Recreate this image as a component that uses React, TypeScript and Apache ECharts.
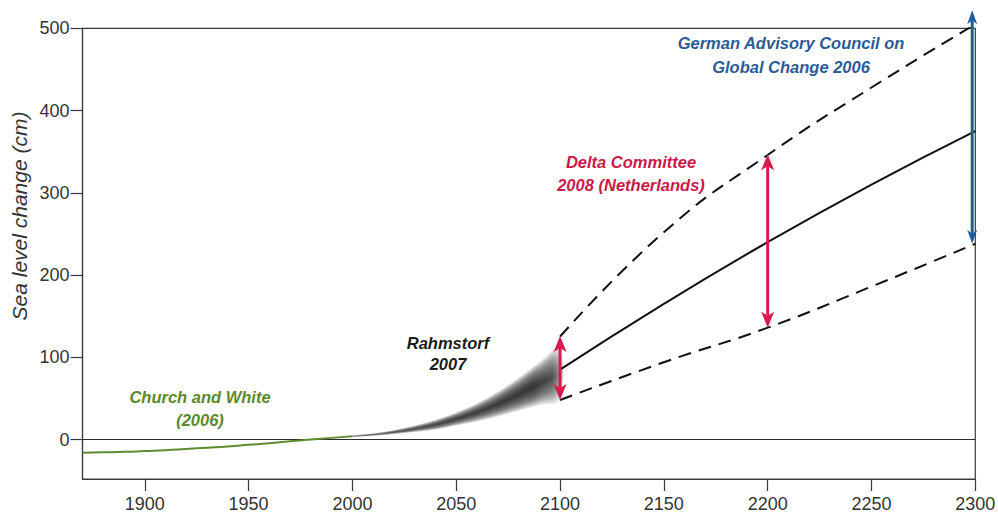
import React, { useEffect, useRef } from "react";
import * as echarts from "echarts";

// Church and White (2006) reconstruction, cm
const churchYears = [1870, 1880, 1890, 1900, 1910, 1920, 1930, 1940, 1950, 1960, 1970, 1980, 1990, 2000];
const churchLevel = [-16, -15.5, -15, -14, -13, -11.5, -10, -8.5, -6.5, -4.5, -2, 0, 2, 4];

// Rahmstorf (2007) projection: central path and half-width of the fuzzy band, cm
const rahmYears = [2000, 2010, 2020, 2030, 2040, 2050, 2060, 2070, 2080, 2090, 2100];
const rahmMid = [4, 6, 9, 13, 18, 25, 33, 43, 55, 68, 80];
const rahmHalf = [0.8, 1.5, 2.5, 4, 6, 8, 11, 15, 20, 26, 32];
// nested bands used to build the soft fan
const fanFractions = [1.0, 0.92, 0.84, 0.76, 0.68, 0.6, 0.52, 0.44, 0.36, 0.28, 0.2, 0.12, 0.05];

// Long-range projections 2100-2300, cm
const projYears = [2100, 2150, 2200, 2250, 2300];
const projCentral = [85, 165, 240, 310, 375];
const projUpper = [125, 252, 346, 428, 505];
const projLower = [48, 94, 136, 186, 238];

// Range arrows: year, low end, high end, colour
const arrowYears = [2100, 2200, 2298.5];
const arrowLow = [48, 136, 238];
const arrowHigh = [126, 347, 522];
const arrowColours = ["#d61c4e", "#d61c4e", "#1f5c9e"];

// Axis ticks
const xTicks = [1900, 1950, 2000, 2050, 2100, 2150, 2200, 2250, 2300];
const yTicks = [0, 100, 200, 300, 400, 500];

const FONT = "'Liberation Sans', Arial, sans-serif";
const AXIS = "#3a3a3a";

export default function App() {
  const ref = useRef<HTMLDivElement>(null);

  useEffect(() => {
    if (!ref.current) return;
    const chart = echarts.init(ref.current, null, { renderer: "svg" });

    const annotation = (text: string, x: number, y: number, fill: string) => ({
      type: "text",
      x,
      y,
      silent: true,
      z: 20,
      style: {
        text,
        fill,
        fontFamily: FONT,
        fontSize: 16.5,
        fontStyle: "italic",
        fontWeight: "bold",
        textAlign: "center",
        textVerticalAlign: "middle",
      },
    });

    chart.setOption({
      animation: false,
      backgroundColor: "#ffffff",
      grid: {
        left: 82.5,
        right: 22.7,
        top: 28.3,
        bottom: 36,
        show: true,
        borderColor: AXIS,
        borderWidth: 1.2,
        backgroundColor: "transparent",
        outerBoundsMode: "none",
      },
      xAxis: {
        type: "value",
        min: 1870,
        max: 2300,
        axisLine: { show: true, onZero: false, lineStyle: { color: AXIS, width: 1.2 } },
        axisTick: { show: true, customValues: xTicks, length: 12, lineStyle: { color: AXIS, width: 1.2 } },
        axisLabel: {
          customValues: xTicks,
          formatter: (v: number) => String(v),
          margin: 16,
          color: "#333",
          fontSize: 18,
          fontFamily: FONT,
        },
        splitLine: { show: false },
      },
      yAxis: {
        type: "value",
        min: -48,
        max: 500,
        axisLine: { show: true, onZero: false, lineStyle: { color: AXIS, width: 1.2 } },
        axisTick: { show: true, customValues: yTicks, length: 12, lineStyle: { color: AXIS, width: 1.2 } },
        axisLabel: {
          customValues: yTicks,
          formatter: (v: number) => String(v),
          margin: 13,
          color: "#333",
          fontSize: 18,
          fontFamily: FONT,
        },
        splitLine: { show: false },
      },
      graphic: [
        {
          type: "text",
          x: 19,
          y: 216,
          rotation: Math.PI / 2,
          silent: true,
          style: {
            text: "Sea level change (cm)",
            fill: "#333",
            fontFamily: FONT,
            fontSize: 21,
            fontStyle: "italic",
            textAlign: "center",
            textVerticalAlign: "middle",
          },
        },
        annotation("Church and White", 200, 397, "#5b8a2c"),
        annotation("(2006)", 200, 420, "#5b8a2c"),
        annotation("Rahmstorf", 448, 343, "#1c1c1c"),
        annotation("2007", 448, 364, "#1c1c1c"),
        annotation("Delta Committee", 631, 162, "#c81a4b"),
        annotation("2008 (Netherlands)", 631, 185, "#c81a4b"),
        annotation("German Advisory Council on", 791, 43, "#2b5c95"),
        annotation("Global Change 2006", 791, 67, "#2b5c95"),
      ],
      series: [
        {
          name: "Church and White (2006)",
          type: "line",
          data: churchYears.map((y, i) => [y, churchLevel[i]]),
          smooth: true,
          symbol: "none",
          z: 5,
          lineStyle: { color: "#5e8d2f", width: 2 },
          markLine: {
            silent: true,
            symbol: ["none", "none"],
            label: { show: false },
            lineStyle: { color: "#2a2a2a", width: 1.2, type: "solid" },
            data: [{ yAxis: 0 }],
          },
        },
        {
          name: "Rahmstorf 2007",
          type: "custom",
          z: 4,
          silent: true,
          data: fanFractions.map((f) => [rahmYears[0], rahmMid[0], f]),
          renderItem: (_params: any, api: any) => {
            const f = api.value(2);
            const upper = rahmYears.map((yr, i) => api.coord([yr, rahmMid[i] + rahmHalf[i] * f]));
            const lower = rahmYears
              .map((yr, i) => api.coord([yr, rahmMid[i] - rahmHalf[i] * f]))
              .reverse();
            const a = 0.14;
            return {
              type: "polygon",
              shape: { points: [...upper, ...lower], smooth: 0.35 },
              style: {
                fill: new echarts.graphic.LinearGradient(0, 0, 1, 0, [
                  { offset: 0, color: `rgba(20,20,20,${a * 0.6})` },
                  { offset: 0.45, color: `rgba(20,20,20,${a * 0.85})` },
                  { offset: 0.86, color: `rgba(20,20,20,${a})` },
                  { offset: 0.95, color: `rgba(20,20,20,${a * 0.7})` },
                  { offset: 1, color: `rgba(20,20,20,${a * 0.15})` },
                ]),
                stroke: "none",
              },
            };
          },
        },
        {
          name: "Central projection",
          type: "line",
          data: projYears.map((y, i) => [y, projCentral[i]]),
          smooth: true,
          symbol: "none",
          z: 6,
          lineStyle: { color: "#111", width: 2 },
        },
        {
          name: "Upper projection",
          type: "line",
          data: projYears.map((y, i) => [y, projUpper[i]]),
          smooth: true,
          symbol: "none",
          z: 6,
          lineStyle: { color: "#111", width: 2, type: [13, 8] },
        },
        {
          name: "Lower projection",
          type: "line",
          data: projYears.map((y, i) => [y, projLower[i]]),
          smooth: true,
          symbol: "none",
          z: 6,
          lineStyle: { color: "#111", width: 2, type: [13, 8] },
        },
        {
          name: "Ranges",
          type: "custom",
          z: 10,
          silent: true,
          clip: false,
          data: arrowYears.map((y, i) => [y, arrowLow[i], arrowHigh[i], i]),
          renderItem: (_params: any, api: any) => {
            const x = api.value(0);
            const idx = api.value(3);
            const colour = arrowColours[idx];
            const lo = api.coord([x, api.value(1)]);
            const hi = api.coord([x, api.value(2)]);
            const px = lo[0];
            const blue = idx === 2;
            const head = blue ? 14 : 16;
            const hw = blue ? 5 : 6.5;
            const notch = 4;
            return {
              type: "group",
              children: [
                {
                  type: "line",
                  shape: { x1: px, y1: hi[1] + head - notch, x2: px, y2: lo[1] - head + notch },
                  style: { stroke: colour, lineWidth: 3 },
                },
                {
                  type: "polygon",
                  shape: {
                    points: [
                      [px, hi[1]],
                      [px + hw, hi[1] + head],
                      [px, hi[1] + head - notch],
                      [px - hw, hi[1] + head],
                    ],
                  },
                  style: { fill: colour },
                },
                {
                  type: "polygon",
                  shape: {
                    points: [
                      [px, lo[1]],
                      [px + hw, lo[1] - head],
                      [px, lo[1] - head + notch],
                      [px - hw, lo[1] - head],
                    ],
                  },
                  style: { fill: colour },
                },
              ],
            };
          },
        },
      ],
    });

    return () => chart.dispose();
  }, []);

  return (
    <div
      ref={ref}
      style={{ position: "fixed", left: 0, top: 0, width: 998, height: 515, background: "#fff" }}
    />
  );
}
